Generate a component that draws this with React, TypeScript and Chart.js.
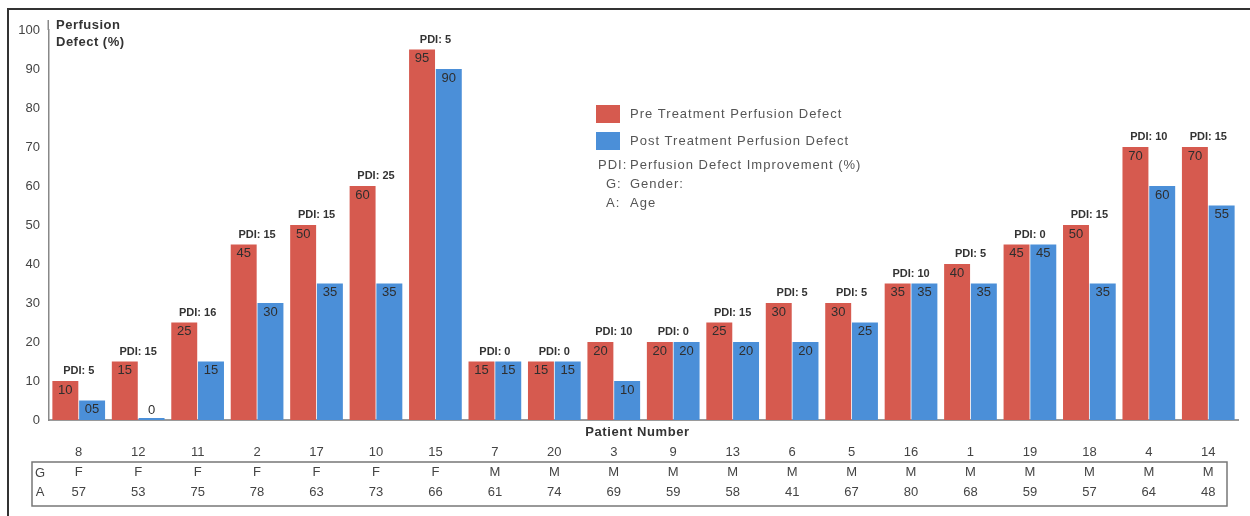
import { useEffect, useRef } from "react";
import { Chart, registerables } from "chart.js";

Chart.register(...registerables);

const patients = ["8", "12", "11", "2", "17", "10", "15", "7", "20", "3", "9", "13", "6", "5", "16", "1", "19", "18", "4", "14"];
const genders = ["F", "F", "F", "F", "F", "F", "F", "M", "M", "M", "M", "M", "M", "M", "M", "M", "M", "M", "M", "M"];
const ages = [57, 53, 75, 78, 63, 73, 66, 61, 74, 69, 59, 58, 41, 67, 80, 68, 59, 57, 64, 48];
const preValues = [10, 15, 25, 45, 50, 60, 95, 15, 15, 20, 20, 25, 30, 30, 35, 40, 45, 50, 70, 70];
const postValues = [5, 0, 15, 30, 35, 35, 90, 15, 15, 10, 20, 20, 20, 25, 35, 35, 45, 35, 60, 55];
const pdiValues = [5, 15, 16, 15, 15, 25, 5, 0, 0, 10, 0, 15, 5, 5, 10, 5, 0, 15, 10, 15];
const legendNotes = [
  ["PDI:", "Perfusion Defect Improvement (%)"],
  ["G:", "Gender:"],
  ["A:", "Age"],
];
const yMin = 0;
const yMax = 100;
const yStep = 10;

const FONT = "'Liberation Sans', Arial, sans-serif";
const RED = "#d65a4f";
const BLUE = "#4b8fd8";

const fmt = (v: number) => (v > 0 && v < 10 ? "0" + v : String(v));

const overlayPlugin = {
  id: "overlay",
  afterDatasetsDraw(chart: any) {
    const ctx = chart.ctx as any;
    const area = chart.chartArea;
    const xs = chart.scales.x;
    ctx.save();

    // value labels
    ctx.font = `13px ${FONT}`;
    ctx.fillStyle = "#2e2e2e";
    ctx.textAlign = "center";
    ctx.textBaseline = "middle";
    chart.data.datasets.forEach((ds: any, di: number) => {
      const meta = chart.getDatasetMeta(di);
      meta.data.forEach((bar: any, i: number) => {
        const v = ds.data[i];
        const y = v >= 5 ? bar.y + 9 : area.bottom - 10;
        ctx.fillText(fmt(v), bar.x, y);
      });
    });

    // PDI labels
    ctx.font = `bold 11px ${FONT}`;
    ctx.fillStyle = "#333";
    const preMeta = chart.getDatasetMeta(0);
    pdiValues.forEach((p, i) => {
      const bar: any = preMeta.data[i];
      ctx.fillText(`PDI: ${p}`, xs.getPixelForValue(i), bar.y - 10);
    });

    // y-axis extension and title
    ctx.strokeStyle = "#888";
    ctx.lineWidth = 1.5;
    ctx.beginPath();
    ctx.moveTo(area.left - 0.75, area.top - 10);
    ctx.lineTo(area.left - 0.75, area.top);
    ctx.stroke();

    ctx.font = `bold 13px ${FONT}`;
    ctx.letterSpacing = "0.5px";
    ctx.fillStyle = "#333";
    ctx.textAlign = "left";
    ctx.fillText("Perfusion", area.left + 7, area.top - 5);
    ctx.fillText("Defect (%)", area.left + 7, area.top + 12);

    // x title
    ctx.letterSpacing = "0.6px";
    ctx.textAlign = "center";
    ctx.fillText("Patient Number", (area.left + area.right) / 2 - 6, area.bottom + 12);
    ctx.letterSpacing = "0px";

    // table box
    ctx.strokeStyle = "#777";
    ctx.lineWidth = 1.5;
    ctx.strokeRect(32, 462, 1195, 44);
    ctx.font = `13px ${FONT}`;
    ctx.fillStyle = "#444";
    ctx.fillText("G", 40, 473);
    ctx.fillText("A", 40, 492);

    // legend
    ctx.letterSpacing = "1px";
    const lx = 596;
    const rows = [114, 141];
    chart.data.datasets.forEach((ds: any, di: number) => {
      ctx.fillStyle = ds.backgroundColor;
      ctx.fillRect(lx, rows[di] - 9, 24, 18);
      ctx.fillStyle = "#555";
      ctx.textAlign = "left";
      ctx.fillText(ds.label, 630, rows[di]);
    });
    const noteRows = [165, 184, 203];
    const noteX = [598, 606, 606];
    legendNotes.forEach(([k, t], i) => {
      ctx.textAlign = "left";
      ctx.fillText(k, noteX[i], noteRows[i]);
      ctx.fillText(t, 630, noteRows[i]);
    });
    ctx.letterSpacing = "0px";

    // outer frame
    ctx.strokeStyle = "#333";
    ctx.lineWidth = 2;
    ctx.beginPath();
    ctx.moveTo(8, 516);
    ctx.lineTo(8, 9);
    ctx.lineTo(1250, 9);
    ctx.stroke();

    ctx.restore();
  },
};

export default function App() {
  const ref = useRef<HTMLCanvasElement>(null);
  useEffect(() => {
    if (!ref.current) return;
    const chart = new Chart(ref.current, {
      type: "bar",
      data: {
        labels: patients.map((p, i) => [p, genders[i], String(ages[i])]),
        datasets: [
          {
            label: "Pre Treatment Perfusion Defect",
            data: preValues,
            backgroundColor: RED,
            categoryPercentage: 0.9,
            barPercentage: 0.97,
          },
          {
            label: "Post Treatment Perfusion Defect",
            data: postValues,
            backgroundColor: BLUE,
            categoryPercentage: 0.9,
            barPercentage: 0.97,
            minBarLength: 2,
          },
        ],
      },
      options: {
        animation: false,
        responsive: false,
        devicePixelRatio: 1,
        layout: { padding: { left: 0, right: 12, top: 30, bottom: 0 } },
        plugins: {
          legend: { display: false },
          tooltip: { enabled: false },
        },
        scales: {
          x: {
            grid: { display: false, drawTicks: false },
            border: { display: true, color: "#9a9a9a", width: 2 },
            ticks: {
              color: "#444",
              font: { family: FONT, size: 13, lineHeight: "20px" },
              padding: 22,
              autoSkip: false,
              maxRotation: 0,
            },
            afterFit: (s: any) => {
              s.height = 96;
            },
          },
          y: {
            min: yMin,
            max: yMax,
            grid: { display: false, drawTicks: false },
            border: { display: true, color: "#888", width: 1.5 },
            ticks: {
              stepSize: yStep,
              color: "#444",
              font: { family: FONT, size: 13 },
              padding: 9,
            },
            afterFit: (s: any) => {
              s.width = 49;
            },
          },
        },
      },
      plugins: [overlayPlugin],
    });
    return () => chart.destroy();
  }, []);
  return (
    <div style={{ position: "fixed", left: 0, top: 0, width: 1250, height: 516, background: "#fff" }}>
      <canvas ref={ref} width={1250} height={516} style={{ display: "block" }} />
    </div>
  );
}
